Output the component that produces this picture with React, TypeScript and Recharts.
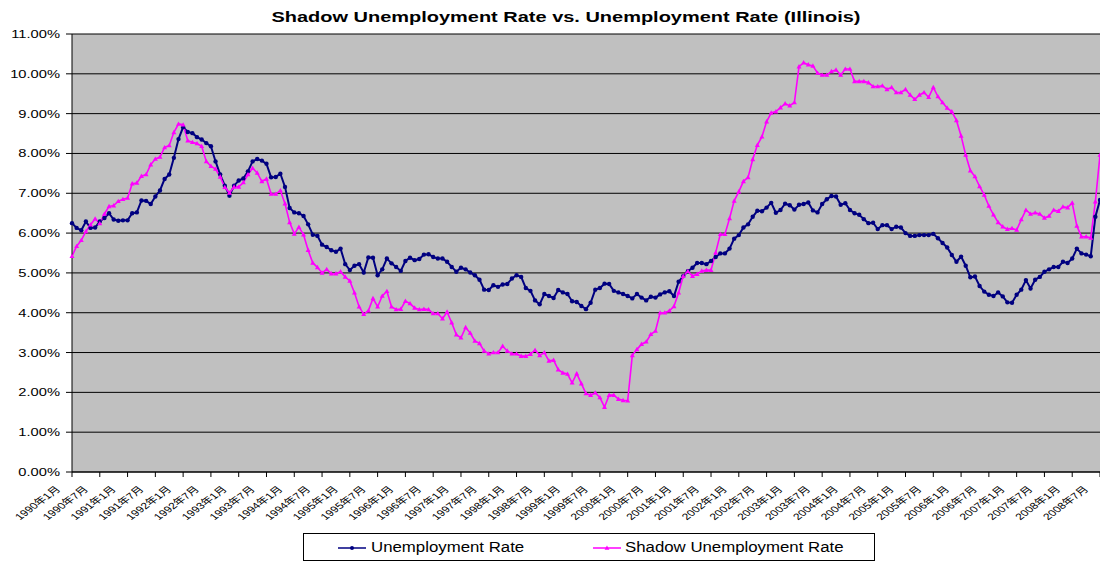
import { LineChart, Line, XAxis, YAxis, CartesianGrid, Legend } from 'recharts';

// Illinois, monthly, Jan 1990 - Jul 2008 (percent)
const START_YEAR = 1990;

const unemployment = [
  6.25, 6.13, 6.07, 6.29, 6.13, 6.14, 6.29, 6.38, 6.50, 6.34,
  6.31, 6.32, 6.32, 6.50, 6.52, 6.82, 6.81, 6.73, 6.92, 7.07,
  7.36, 7.47, 7.89, 8.36, 8.66, 8.54, 8.51, 8.41, 8.35, 8.26,
  8.18, 7.80, 7.47, 7.19, 6.94, 7.19, 7.32, 7.37, 7.55, 7.80,
  7.86, 7.82, 7.74, 7.40, 7.41, 7.49, 7.16, 6.63, 6.52, 6.50,
  6.43, 6.22, 5.96, 5.93, 5.71, 5.65, 5.57, 5.53, 5.61, 5.22,
  5.07, 5.18, 5.22, 5.01, 5.39, 5.38, 4.94, 5.09, 5.36, 5.24,
  5.15, 5.05, 5.30, 5.38, 5.32, 5.35, 5.46, 5.47, 5.40, 5.36,
  5.36, 5.28, 5.15, 5.03, 5.13, 5.09, 5.01, 4.94, 4.83, 4.58,
  4.57, 4.69, 4.65, 4.71, 4.72, 4.86, 4.94, 4.90, 4.62, 4.55,
  4.31, 4.21, 4.47, 4.42, 4.37, 4.57, 4.51, 4.47, 4.29, 4.27,
  4.17, 4.09, 4.25, 4.58, 4.62, 4.73, 4.72, 4.55, 4.51, 4.47,
  4.42, 4.36, 4.47, 4.38, 4.31, 4.40, 4.38, 4.46, 4.51, 4.54,
  4.42, 4.78, 4.92, 5.04, 5.13, 5.25, 5.25, 5.22, 5.30, 5.40,
  5.49, 5.49, 5.61, 5.86, 5.95, 6.14, 6.22, 6.41, 6.56, 6.55,
  6.64, 6.76, 6.51, 6.58, 6.74, 6.70, 6.59, 6.71, 6.73, 6.77,
  6.57, 6.52, 6.73, 6.85, 6.93, 6.92, 6.71, 6.75, 6.58, 6.50,
  6.46, 6.35, 6.25, 6.26, 6.10, 6.20, 6.20, 6.10, 6.16, 6.14,
  6.00, 5.93, 5.93, 5.95, 5.95, 5.95, 5.98, 5.87, 5.75, 5.64,
  5.45, 5.28, 5.41, 5.18, 4.89, 4.91, 4.67, 4.53, 4.45, 4.42,
  4.51, 4.41, 4.26, 4.25, 4.45, 4.58, 4.82, 4.61, 4.83, 4.90,
  5.03, 5.09, 5.15, 5.15, 5.28, 5.25, 5.36, 5.61, 5.49, 5.46,
  5.42, 6.41, 6.83,
];

const shadow = [
  5.42, 5.67, 5.82, 6.04, 6.21, 6.36, 6.24, 6.48, 6.67, 6.69,
  6.80, 6.85, 6.88, 7.24, 7.26, 7.43, 7.47, 7.72, 7.86, 7.91,
  8.15, 8.20, 8.53, 8.74, 8.72, 8.32, 8.28, 8.25, 8.18, 7.80,
  7.68, 7.61, 7.41, 7.15, 7.01, 7.16, 7.16, 7.27, 7.47, 7.63,
  7.51, 7.30, 7.36, 6.98, 6.98, 7.07, 6.74, 6.27, 5.98, 6.15,
  5.96, 5.57, 5.25, 5.14, 5.00, 5.09, 4.98, 4.98, 5.03, 4.90,
  4.80, 4.50, 4.15, 3.96, 4.05, 4.36, 4.15, 4.42, 4.54, 4.15,
  4.08, 4.09, 4.29, 4.23, 4.12, 4.08, 4.09, 4.08, 3.98, 3.98,
  3.85, 4.02, 3.75, 3.45, 3.37, 3.63, 3.49, 3.29, 3.23, 3.04,
  2.97, 3.00, 3.00, 3.16, 3.04, 2.97, 2.97, 2.91, 2.91, 2.96,
  3.06, 2.93, 3.00, 2.79, 2.81, 2.57, 2.49, 2.46, 2.24, 2.47,
  2.22, 1.97, 1.93, 1.99, 1.87, 1.63, 1.93, 1.93, 1.83, 1.80,
  1.79, 2.93, 3.08, 3.21, 3.27, 3.46, 3.54, 4.00, 4.00, 4.05,
  4.16, 4.50, 4.92, 5.04, 4.92, 4.97, 5.05, 5.07, 5.07, 5.51,
  5.97, 5.97, 6.37, 6.81, 7.04, 7.30, 7.40, 7.85, 8.21, 8.42,
  8.80, 9.02, 9.05, 9.15, 9.25, 9.20, 9.28, 10.18, 10.28, 10.23,
  10.20, 10.02, 9.97, 9.97, 10.06, 10.10, 9.97, 10.12, 10.12, 9.81,
  9.81, 9.81, 9.78, 9.68, 9.68, 9.70, 9.61, 9.66, 9.53, 9.53,
  9.61, 9.47, 9.36, 9.47, 9.53, 9.41, 9.66, 9.43, 9.28, 9.14,
  9.05, 8.83, 8.44, 7.96, 7.57, 7.42, 7.17, 6.96, 6.68, 6.46,
  6.27, 6.16, 6.10, 6.12, 6.08, 6.34, 6.58, 6.48, 6.51, 6.48,
  6.38, 6.43, 6.58, 6.55, 6.66, 6.64, 6.76, 6.18, 5.91, 5.91,
  5.88, 6.79, 7.96,
];

// category labels: "1990年1月" ...
const months = unemployment.map(
  (_, i) => `${START_YEAR + Math.floor(i / 12)}年${(i % 12) + 1}月`
);

const yTicks = [0, 1, 2, 3, 4, 5, 6, 7, 8, 9, 10, 11];

const NAVY = '#000080';
const PINK = '#FF00FF';
const FONT = 'Arial, "Liberation Sans", "Noto Sans CJK SC", sans-serif';

const data = months.map((m, i) => ({
  month: m,
  unemployment: unemployment[i],
  shadow: shadow[i],
}));

const navyDot = (props: any) => (
  <circle key={`u-${props.index}`} cx={props.cx} cy={props.cy} r={2.2} fill={NAVY} />
);

const pinkDot = (props: any) => {
  const { cx, cy } = props;
  return (
    <path
      key={`s-${props.index}`}
      d={`M${cx},${cy - 2.6}L${cx + 2.5},${cy + 1.8}L${cx - 2.5},${cy + 1.8}Z`}
      fill={PINK}
    />
  );
};

const XTick = ({ x, y, payload }: any) => (
  <g transform={`translate(${x - 11},${y + 11})`}>
    <text
      textAnchor="end"
      transform="scale(1.35,1) rotate(-45)"
      fontSize={9}
      fontFamily={FONT}
      fill="#000"
    >
      {payload.value}
    </text>
  </g>
);

const YTick = ({ x, y, payload }: any) => (
  <g transform={`translate(${x},${y})`}>
    <text
      textAnchor="end"
      dy={4}
      transform="scale(1.4,1)"
      fontSize={10.5}
      fontFamily={FONT}
      fill="#000"
    >
      {`${payload.value.toFixed(2)}%`}
    </text>
  </g>
);

const LegendSample = ({ color, marker }: { color: string; marker: 'circle' | 'tri' }) => (
  <svg width={30} height={10} style={{ position: 'absolute', top: 9 }}>
    <line x1={1} y1={5} x2={29} y2={5} stroke={color} strokeWidth={1.5} />
    {marker === 'circle' ? (
      <circle cx={15} cy={5} r={2} fill={color} />
    ) : (
      <path d="M15,2.6L17.4,6.8L12.6,6.8Z" fill={color} />
    )}
  </svg>
);

const renderLegend = () => (
  <div
    style={{
      boxSizing: 'border-box',
      width: 572,
      height: 28,
      border: '1px solid #000',
      background: '#fff',
      position: 'relative',
      fontFamily: FONT,
      fontSize: 14,
    }}
  >
    <div style={{ position: 'absolute', left: 33 }}>
      <LegendSample color={NAVY} marker="circle" />
    </div>
    <span style={{ position: 'absolute', left: 67, top: 5, transform: 'scaleX(1.2)', transformOrigin: 'left', whiteSpace: 'nowrap' }}>
      Unemployment Rate
    </span>
    <div style={{ position: 'absolute', left: 288 }}>
      <LegendSample color={PINK} marker="tri" />
    </div>
    <span style={{ position: 'absolute', left: 321, top: 5, transform: 'scaleX(1.2)', transformOrigin: 'left', whiteSpace: 'nowrap' }}>
      Shadow Unemployment Rate
    </span>
  </div>
);

export default function App() {
  return (
    <div style={{ position: 'absolute', left: 0, top: 0, width: 1100, height: 561, background: '#fff' }}>
      <svg width={1100} height={34} style={{ position: 'absolute', left: 0, top: 0 }}>
        <text
          x={566}
          y={22}
          textAnchor="middle"
          fontFamily={FONT}
          fontWeight="bold"
          fontSize={15}
          textLength={589}
          lengthAdjust="spacingAndGlyphs"
          fill="#000"
        >
          Shadow Unemployment Rate vs. Unemployment Rate (Illinois)
        </text>
      </svg>
      <LineChart
        width={1100}
        height={561}
        data={data}
        margin={{ top: 34, right: 0, bottom: 0, left: 0 }}
      >
        <CartesianGrid
          vertical={false}
          stroke="#000"
          strokeWidth={1}
          fill="#C0C0C0"
          fillOpacity={1}
        />
        <XAxis
          dataKey="month"
          interval={5}
          height={61}
          tick={<XTick />}
          tickSize={5}
          tickLine={{ stroke: '#000' }}
          axisLine={{ stroke: '#000' }}
        />
        <YAxis
          width={72}
          domain={[0, 11]}
          ticks={yTicks}
          interval={0}
          tick={<YTick />}
          tickSize={6}
          tickMargin={6}
          tickLine={{ stroke: '#000' }}
          axisLine={{ stroke: '#000' }}
        />
        <Legend
          verticalAlign="bottom"
          content={renderLegend}
          wrapperStyle={{ left: 303, top: 533, width: 572, height: 28 }}
        />
        <Line
          type="linear"
          dataKey="unemployment"
          name="Unemployment Rate"
          stroke={NAVY}
          strokeWidth={2}
          dot={navyDot}
          activeDot={false}
          isAnimationActive={false}
        />
        <Line
          type="linear"
          dataKey="shadow"
          name="Shadow Unemployment Rate"
          stroke={PINK}
          strokeWidth={1.6}
          dot={pinkDot}
          activeDot={false}
          isAnimationActive={false}
        />
      </LineChart>
    </div>
  );
}
